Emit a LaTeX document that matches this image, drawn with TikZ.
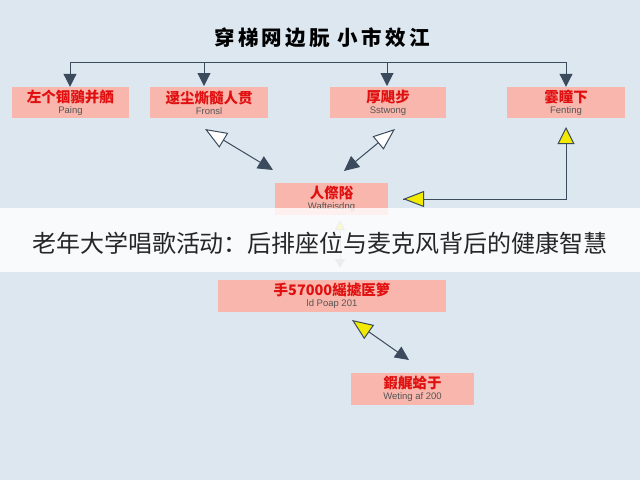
\documentclass[tikz,border=0pt]{standalone}
\usepackage{fontspec}
\setmainfont{Liberation Sans}
\newfontfamily\cjk{Noto Sans CJK SC}
\usetikzlibrary{arrows.meta}
\definecolor{bg}{HTML}{DCE7F0}
\definecolor{boxfill}{HTML}{F9B6AC}
\definecolor{redtxt}{HTML}{E01010}
\definecolor{dark}{HTML}{3B4A5C}
\definecolor{subtxt}{HTML}{555555}
\definecolor{yel}{HTML}{F2EA00}
\tikzset{
  box/.style={fill=boxfill, minimum height=31pt, inner sep=0pt, align=center},
  conn/.style={draw=dark, line width=1pt},
  dtip/.style={-{Triangle[length=13pt,width=13pt]}},
}
\newcommand{\bx}[2]{{\cjk\bfseries\fontsize{14.5}{15}\selectfont\color{redtxt}#1}\\[-1pt]{\fontsize{9.5}{10}\selectfont\color{subtxt}#2}}
\begin{document}
\begin{tikzpicture}[x=1pt,y=-1pt]
\fill[bg] (0,0) rectangle (640,480);
\useasboundingbox (0,0) rectangle (640,480);
\node[font=\cjk\bfseries\fontsize{20.5}{22}\selectfont, text=black] (title) at (322,38) {\addfontfeatures{LetterSpace=16}穿梯网边朊 小市效江};
% top row boxes
\node[box, minimum width=117pt] (b1) at (70.5,102.5) {\bx{左个锢鶸并舾}{Paing}};
\node[box, minimum width=118pt] (b2) at (209,102.5) {\bx{逯尘燍髓人贯}{Fronsl}};
\node[box, minimum width=116pt] (b3) at (388,102.5) {\bx{厚飓步}{Sstwong}};
\node[box, minimum width=118pt] (b4) at (566,102.5) {\bx{霎瞳下}{Fenting}};
\node[box, minimum width=113pt, minimum height=32pt] (mid) at (331.5,199) {\bx{人傺䧍}{Wafteisdng}};
\node[box, minimum width=228pt, minimum height=32pt] (b5) at (332,296) {\bx{手57000䌊㨿医箩}{ld Poap 201}};
\node[box, minimum width=123pt, minimum height=32pt] (b6) at (412.5,389) {\bx{鍜艉蛤于}{Weting af 200}};
% distribution line
\coordinate (t1) at (70,62);
\coordinate (t4) at (566,62);
\draw[conn] (t1) -- (t4);
\draw[conn, dtip] (t1) -- (b1.north -| t1);
\draw[conn, dtip] (204,62) -- (204,86);
\draw[conn, dtip] (387,62) -- (387,86);
\draw[conn, dtip] (t4) -- (b4.north -| t4);
% diagonal double arrows
\coordinate (a1s) at (205,129);
\coordinate (a1e) at (273,170);
\draw[conn, {Triangle[open, fill=white, length=22pt, width=17pt]}-{Triangle[length=15pt,width=14pt]}] (a1s) -- (a1e);
\coordinate (a2s) at (395,129);
\coordinate (a2e) at (344,171);
\draw[conn, {Triangle[open, fill=white, length=22pt, width=17pt]}-{Triangle[length=15pt,width=14pt]}] (a2s) -- (a2e);
% yellow elbow
\coordinate (y1) at (566,127);
\coordinate (y2) at (566,199);
\coordinate (y3) at (403,199);
\draw[conn, {Triangle[fill=yel, length=17pt, width=17pt]}-] (y1) -- (y2) -- (y3);
\draw[conn, -{Triangle[fill=yel, length=21pt, width=16pt]}] (y2) -- (y3);
% vertical mid arrow (under banner)
\draw[conn, draw=gray!70, {Triangle[fill=yel, length=10pt, width=10pt]}-{Triangle[length=9pt,width=10pt, fill=gray!70]}] (340,220) -- (340,268);
% lower diagonal
\coordinate (a3s) at (352,320);
\coordinate (a3e) at (409,360);
\draw[conn, {Triangle[fill=yel, length=21pt, width=17pt]}-{Triangle[length=14pt,width=13pt]}] (a3s) -- (a3e);
% banner
\fill[white, opacity=0.8] (0,208) rectangle (640,272);
\node[font=\cjk\fontsize{24}{26}\selectfont, text=black!85] (banner) at (320,243) {老年大学唱歌活动：后排座位与麦克风背后的健康智慧};
\end{tikzpicture}
\end{document}
